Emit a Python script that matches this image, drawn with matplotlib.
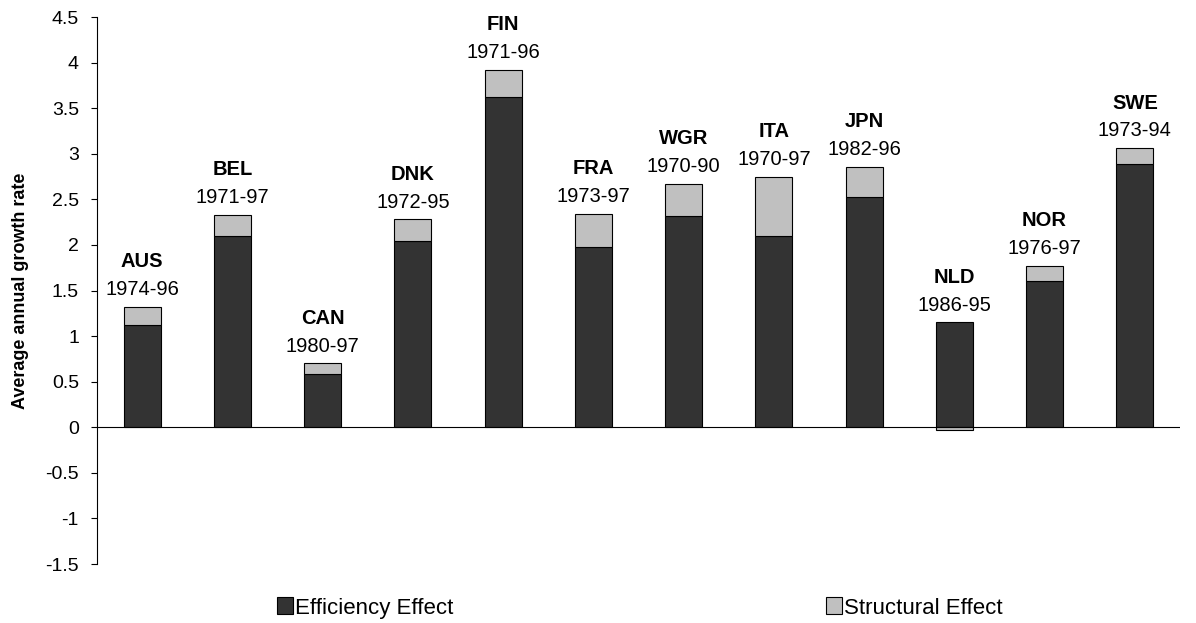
import numpy as np
import matplotlib.pyplot as plt
from matplotlib.patches import Patch

plt.rcParams['font.family'] = ['Liberation Sans', 'DejaVu Sans']

countries = ['AUS', 'BEL', 'CAN', 'DNK', 'FIN', 'FRA', 'WGR', 'ITA', 'JPN', 'NLD', 'NOR', 'SWE']
periods = ['1974-96', '1971-97', '1980-97', '1972-95', '1971-96', '1973-97',
           '1970-90', '1970-97', '1982-96', '1986-95', '1976-97', '1973-94']
efficiency = [1.12, 2.10, 0.58, 2.04, 3.62, 1.98, 2.32, 2.10, 2.53, 1.15, 1.60, 2.89]
structural = [0.20, 0.23, 0.12, 0.24, 0.30, 0.36, 0.35, 0.65, 0.33, -0.03, 0.17, 0.17]

dark = '#333333'
light = '#c0c0c0'

fig = plt.figure(figsize=(11.96, 6.23), dpi=100)
ax = fig.add_axes([0.0811, 0.0947, 0.9055, 0.878])

x = np.arange(len(countries))
eff = np.array(efficiency)
st = np.array(structural)
st_bottom = np.where(st >= 0, eff, 0)

ax.bar(x, eff, width=0.41, color=dark, edgecolor='black', linewidth=0.8, zorder=2)
ax.bar(x, st, bottom=st_bottom, width=0.41, color=light, edgecolor='black', linewidth=0.8, zorder=2)

ax.axhline(0, color='black', linewidth=0.8, zorder=3)

for i in range(len(countries)):
    top = eff[i] + max(st[i], 0)
    ax.annotate(periods[i], (x[i], top), xytext=(0, 12.5), textcoords='offset points',
                ha='center', va='center', fontsize=14.5)
    ax.annotate(countries[i], (x[i], top), xytext=(0, 32.5), textcoords='offset points',
                ha='center', va='center', fontsize=14.5, fontweight='bold')

ax.set_xlim(-0.5, len(countries) - 0.5)
ax.set_ylim(-1.5, 4.5)
ax.set_yticks(np.arange(-1.5, 4.51, 0.5))
ax.set_yticklabels(['%g' % v for v in np.arange(-1.5, 4.51, 0.5)], fontsize=14)
ax.set_xticks([])
ax.tick_params(axis='y', direction='out', length=4, width=0.8, pad=9)
ax.set_ylabel('Average annual growth rate', fontsize=13, fontweight='bold', labelpad=12)

for s in ['top', 'right', 'bottom']:
    ax.spines[s].set_visible(False)
ax.spines['left'].set_linewidth(0.8)

h1 = Patch(facecolor=dark, edgecolor='black', linewidth=0.8)
h2 = Patch(facecolor=light, edgecolor='black', linewidth=0.8)
fig.legend([h1], ['Efficiency Effect'], loc='center left', bbox_to_anchor=(0.2316, 0.024),
           frameon=False, fontsize=16, handlelength=0.7, handleheight=0.8, handletextpad=0.1,
           borderpad=0, borderaxespad=0)
fig.legend([h2], ['Structural Effect'], loc='center left', bbox_to_anchor=(0.6906, 0.024),
           frameon=False, fontsize=16, handlelength=0.7, handleheight=0.8, handletextpad=0.1,
           borderpad=0, borderaxespad=0)

fig.savefig('out.png', dpi=100)
